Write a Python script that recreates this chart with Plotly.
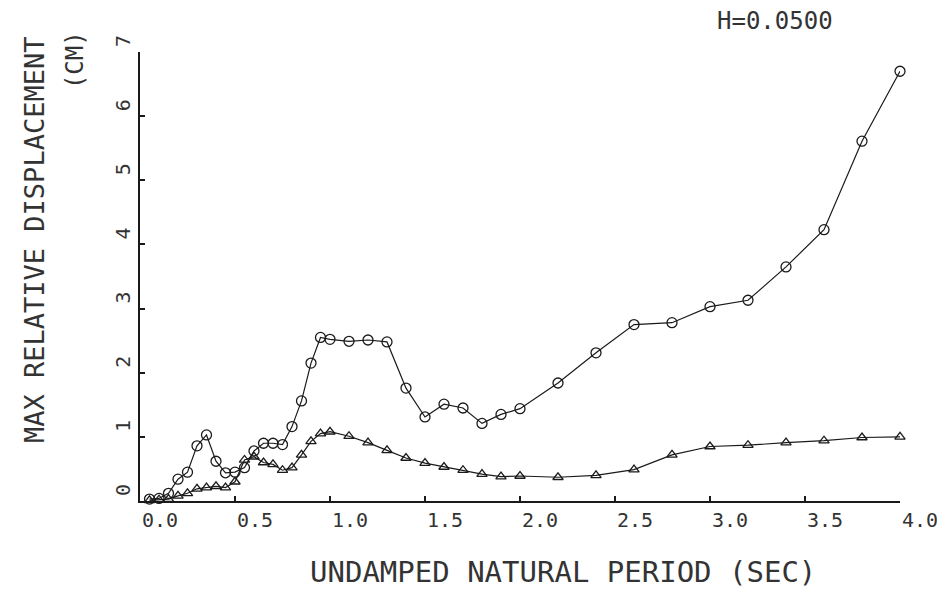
import plotly.graph_objects as go

# undamped natural period (sec)
period = [0.05, 0.10, 0.15, 0.20, 0.25, 0.30, 0.35, 0.40, 0.45, 0.50,
          0.55, 0.60, 0.65, 0.70, 0.75, 0.80, 0.85, 0.90, 0.95, 1.00,
          1.1, 1.2, 1.3, 1.4, 1.5, 1.6, 1.7, 1.8, 1.9, 2.0,
          2.2, 2.4, 2.6, 2.8, 3.0, 3.2, 3.4, 3.6, 3.8, 4.0]

# max relative displacement (cm), circle series
disp_circle = [0.03, 0.04, 0.12, 0.34, 0.45, 0.86, 1.03, 0.62, 0.44, 0.45,
               0.52, 0.78, 0.90, 0.90, 0.88, 1.16, 1.56, 2.15, 2.55, 2.52,
               2.49, 2.51, 2.48, 1.76, 1.31, 1.51, 1.45, 1.21, 1.35, 1.44,
               1.84, 2.31, 2.75, 2.78, 3.03, 3.13, 3.65, 4.23, 5.61, 6.70]

# max relative displacement (cm), triangle series
disp_triangle = [0.01, 0.02, 0.03, 0.08, 0.12, 0.19, 0.21, 0.23, 0.21, 0.30,
                 0.64, 0.69, 0.60, 0.57, 0.48, 0.52, 0.72, 0.93, 1.05, 1.08,
                 1.01, 0.91, 0.79, 0.67, 0.59, 0.53, 0.48, 0.42, 0.38, 0.39,
                 0.37, 0.40, 0.49, 0.72, 0.85, 0.87, 0.91, 0.94, 0.99, 1.00]

x_ticks = [0.0, 0.5, 1.0, 1.5, 2.0, 2.5, 3.0, 3.5, 4.0]
x_ticktext = ['0.0', '0.5', '1.0', '1.5', '2.0', '2.5', '3.0', '3.5', '4.0']
y_ticks = [0, 1, 2, 3, 4, 5, 6, 7]

FONT = 'DejaVu Sans Mono'
INK = '#1a1a1a'
TXT = '#333'

traces = [
    go.Scatter(x=period, y=disp_circle, mode='lines+markers', cliponaxis=False,
               line=dict(color=INK, width=1.2),
               marker=dict(symbol='circle-open', size=10,
                           line=dict(color=INK, width=1.3)),
               showlegend=False),
    go.Scatter(x=period, y=disp_triangle, mode='lines+markers', cliponaxis=False,
               line=dict(color=INK, width=1.2),
               marker=dict(symbol='triangle-up-open', size=9,
                           line=dict(color=INK, width=1.3)),
               showlegend=False),
]

axis_common = dict(showline=True, linecolor=INK, linewidth=1.5,
                   ticks='inside', ticklen=5, tickwidth=1.5, tickcolor=INK,
                   showgrid=False, zeroline=False,
                   tickfont=dict(family=FONT, size=20, color=TXT))


def note(text, x, y, size, angle=0):
    # x, y in paper fractions, anchored at the text centre
    return dict(text=text, xref='paper', yref='paper', x=x, y=y,
                xanchor='center', yanchor='middle', textangle=angle,
                showarrow=False, font=dict(family=FONT, size=size, color=TXT))


layout = go.Layout(
    width=945, height=589,
    margin=dict(l=132, r=53, t=44, b=96),
    paper_bgcolor='white', plot_bgcolor='white',
    xaxis=dict(range=[0, 4.0], tickvals=x_ticks, ticktext=x_ticktext,
               ticklabelshift=20, **axis_common),
    yaxis=dict(range=[0, 7], tickvals=y_ticks, tickangle=-90,
               ticklabelshift=-8, **axis_common),
    annotations=[
        note('H=0.0500', 0.8355, 1.07, 24),
        note('UNDAMPED NATURAL PERIOD (SEC)', 0.5566, -0.158, 29),
        note('MAX RELATIVE DISPLACEMENT', -0.1382, 0.5813, 27, -90),
        note('(CM)', -0.0855, 0.982, 24, -90),
    ],
)

fig = go.Figure(data=traces, layout=layout)
fig.write_html('out.html')
